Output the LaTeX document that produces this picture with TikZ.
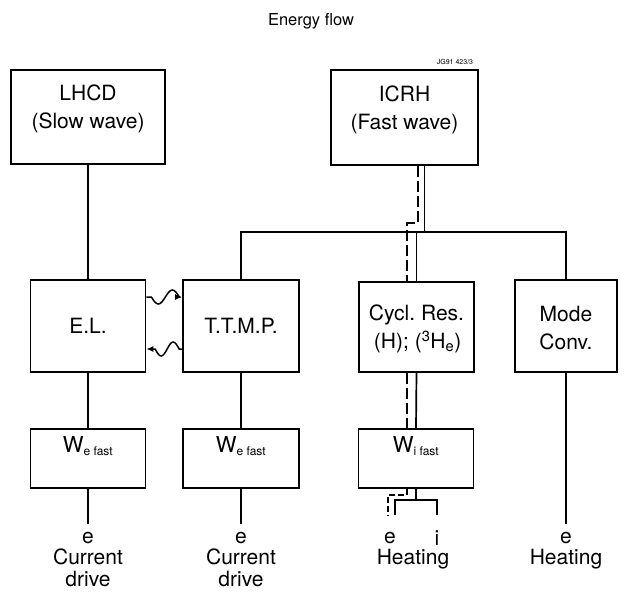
\documentclass[tikz,border=0pt]{standalone}
\usepackage{fontspec}
\setmainfont{TeX Gyre Heros}
\usetikzlibrary{arrows.meta}
\frenchspacing
\begin{document}
\begin{tikzpicture}[x=1pt,y=-1pt,
  box/.style={draw,line width=1.7pt,inner sep=0pt,align=center,
    font=\fontsize{21}{28}\selectfont},
  txt/.style={inner sep=0pt,align=center,font=\fontsize{21}{22}\selectfont},
  btxt/.style={inner sep=0pt,align=center,font=\fontsize{21}{28}\selectfont},
  wtxt/.style={inner sep=0pt,font=\fontsize{22}{22}\selectfont},
  conn/.style={line width=1.7pt},
  dconn/.style={line width=1.7pt,dash pattern=on 11pt off 4pt},
  wave/.style={line width=1.5pt,-{Latex[length=7pt,width=6pt]}}]
\useasboundingbox (0,0) rectangle (624,594);
\node[inner sep=0pt,font=\fontsize{16.5}{20}\selectfont] (title) at (311,21) {Energy flow};
\node[inner sep=0pt,font=\fontsize{7}{8}\selectfont] (jg) at (455,62) {JG91 423/3};
\node[box,minimum width=154pt,minimum height=94pt] (lhcd) at (88,117) {};
\node[btxt] (lhcdt) at (88,109) {LHCD\\(Slow wave)};
\node[box,minimum width=147pt,minimum height=95pt] (icrh) at (404.5,117.5) {};
\node[btxt] (icrht) at (404.5,110) {ICRH\\(Fast wave)};
\node[box,minimum width=115pt,minimum height=92pt] (el) at (88,326) {E.L.};
\node[box,minimum width=116pt,minimum height=92pt] (ttmp) at (241,326) {T.T.M.P.};
\node[box,minimum width=115pt,minimum height=90pt] (cycl) at (416.5,327) {};
\node[btxt,align=left] (cyclt) at (416.5,329) {Cycl. Res.\\\hspace*{5pt}(H); (\textsuperscript{3}H\textsubscript{e})};
\node[box,minimum width=102pt,minimum height=92pt] (mode) at (566,326) {};
\node[btxt] (modet) at (566,328) {Mode\\Conv.};
\node[box,minimum width=115pt,minimum height=59pt] (w1) at (88,458.5) {};
\node[box,minimum width=116pt,minimum height=59pt] (w2) at (241,458.5) {};
\node[box,minimum width=115pt,minimum height=59pt] (w3) at (416,458.5) {};
\node[wtxt] (w1t) at (88,446) {W\textsubscript{\fontsize{12}{12}\selectfont e fast}};
\node[wtxt] (w2t) at (241,446) {W\textsubscript{\fontsize{12}{12}\selectfont e fast}};
\node[wtxt] (w3t) at (416,446) {W\textsubscript{\fontsize{12}{12}\selectfont i fast}};
% bottom labels
\node[txt] (e1) at (88,538) {e};
\node[txt] (cd1) at (88,568) {Current\\drive};
\node[txt] (e2) at (241,538) {e};
\node[txt] (cd2) at (241,568) {Current\\drive};
\node[txt] (e3) at (390,538) {e};
\node[txt] (i3) at (437,538) {i};
\node[txt] (h3) at (413,559) {Heating};
\node[txt] (e4) at (566,538) {e};
\node[txt] (h4) at (566,559) {Heating};
% coordinates
\coordinate (bus) at (0,232);
\coordinate (e1top) at (88,524);
\coordinate (e2top) at (241,524);
\coordinate (e4top) at (566,524);
\coordinate (fork) at (0,500);
\coordinate (dfork) at (0,495);
\coordinate (forkend) at (0,515);
% LHCD column
\draw[conn] (lhcd.south) -- (el.north);
\draw[conn] (el.south) -- (w1.north);
\draw[conn] (w1.south) -- (e1top);
\draw[conn] (ttmp.south) -- (w2.north);
\draw[conn] (w2.south) -- (e2top);
% bus
\draw[conn] (ttmp.north) -- (ttmp.north |- bus) -- (mode.north |- bus) -- (mode.north);
\draw[conn] ([xshift=20pt]icrh.south) -- ([xshift=20pt]icrh.south |- bus);
\draw[conn] (cycl.north |- bus) -- (cycl.north);
\draw[conn] (cycl.south) -- (w3.north);
\draw[conn] (mode.south) -- (e4top);
% ICRH dashed path
\coordinate (d1) at (418,223);
\coordinate (d2) at (407,223);
\draw[dconn] (icrh.south -| d1) -- (d1) -- (d2) -- (d2 |- cycl.north);
\draw[dconn] (d2 |- cycl.south) -- (d2 |- w3.north);
% fork under W_i
\draw[conn] (w3.south) -- (w3.south |- fork);
\draw[conn] (e3 |- forkend) ++(5,0) coordinate (fl) -- (fl |- fork) -- (i3 |- fork) -- (i3 |- forkend);
\draw[dconn,dash pattern=on 6pt off 3pt] (d2 |- w3.south) -- (d2 |- dfork) -- ([xshift=-2pt]e3 |- dfork) -- ([xshift=-2pt]e3 |- forkend);
% wavy arrows
\coordinate (u1) at (el.east |- 0,297);
\coordinate (u2) at (ttmp.west |- 0,297);
\draw[wave] (u1) -- ++(5,0) sin ++(7,7) cos ++(7,-7) sin ++(7,-7) cos ++(7,7) -- (u2);
\coordinate (l1) at (ttmp.west |- 0,349);
\coordinate (l2) at (el.east |- 0,349);
\draw[wave] (l1) -- ++(-3,0) sin ++(-6,-7) cos ++(-6,7) sin ++(-6,7) cos ++(-6,-7) -- (l2);
\end{tikzpicture}
\end{document}
